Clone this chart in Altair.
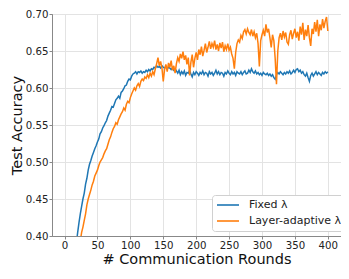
import altair as alt
import pandas as pd

fixed_x = list(range(12, 401, 2))
fixed_y = [
    0.33, 0.35, 0.37, 0.39, 0.405, 0.418, 0.43, 0.44, 0.45, 0.458,
    0.47, 0.478, 0.489, 0.497, 0.502, 0.508, 0.513, 0.518, 0.522, 0.527,
    0.531, 0.538, 0.541, 0.546, 0.549, 0.553, 0.556, 0.562, 0.566, 0.570,
    0.575, 0.574, 0.579, 0.584, 0.586, 0.589, 0.586, 0.594, 0.596, 0.599,
    0.603, 0.604, 0.609, 0.612, 0.611, 0.616, 0.619, 0.620, 0.622, 0.619,
    0.622, 0.621, 0.623, 0.620, 0.622, 0.621, 0.624, 0.622, 0.625, 0.623,
    0.626, 0.625, 0.628, 0.627, 0.630, 0.628, 0.629, 0.627, 0.630, 0.628,
    0.627, 0.629, 0.626, 0.628, 0.627, 0.625, 0.627, 0.624, 0.626, 0.623,
    0.620, 0.624, 0.618, 0.622, 0.619, 0.623, 0.617, 0.621, 0.620, 0.624,
    0.619, 0.615, 0.621, 0.618, 0.622, 0.620, 0.617, 0.621, 0.619, 0.623,
    0.618, 0.621, 0.620, 0.616, 0.622, 0.619, 0.621, 0.617, 0.620, 0.624,
    0.619, 0.622, 0.618, 0.621, 0.620, 0.616, 0.621, 0.619, 0.623, 0.620,
    0.618, 0.622, 0.619, 0.621, 0.617, 0.622, 0.620, 0.619, 0.622, 0.618,
    0.621, 0.623, 0.619, 0.620, 0.624, 0.621, 0.626, 0.622, 0.620, 0.623,
    0.619, 0.621, 0.618, 0.620, 0.617, 0.621, 0.619, 0.618, 0.620, 0.617,
    0.619, 0.616, 0.618, 0.614, 0.612, 0.618, 0.621, 0.619, 0.622, 0.620,
    0.618, 0.621, 0.619, 0.622, 0.620, 0.623, 0.619, 0.621, 0.624, 0.621,
    0.625, 0.626, 0.622, 0.624, 0.620, 0.622, 0.618, 0.616, 0.620, 0.614,
    0.609, 0.617, 0.620, 0.616, 0.619, 0.622, 0.618, 0.621, 0.619, 0.617,
    0.621, 0.619, 0.622, 0.620, 0.622,
]

adaptive_x = list(range(14, 401, 2))
adaptive_y = [
    0.33, 0.35, 0.36, 0.37, 0.38, 0.393, 0.405, 0.412, 0.421, 0.430,
    0.442, 0.450, 0.456, 0.462, 0.469, 0.474, 0.481, 0.485, 0.489, 0.495,
    0.500, 0.503, 0.506, 0.511, 0.515, 0.518, 0.524, 0.530, 0.534, 0.540,
    0.545, 0.548, 0.553, 0.551, 0.557, 0.561, 0.565, 0.568, 0.573, 0.570,
    0.578, 0.582, 0.580, 0.587, 0.592, 0.596, 0.600, 0.597, 0.603, 0.606,
    0.602, 0.609, 0.612, 0.610, 0.615, 0.613, 0.618, 0.614, 0.620, 0.616,
    0.622, 0.618, 0.626, 0.633, 0.641, 0.630, 0.636, 0.627, 0.609, 0.625,
    0.632, 0.622, 0.634, 0.628, 0.637, 0.624, 0.630, 0.620, 0.633, 0.641,
    0.636, 0.646, 0.640, 0.649, 0.638, 0.644, 0.632, 0.641, 0.617, 0.635,
    0.645, 0.628, 0.640, 0.648, 0.638, 0.652, 0.645, 0.656, 0.643, 0.651,
    0.660, 0.648, 0.655, 0.663, 0.653, 0.660, 0.655, 0.664, 0.652, 0.659,
    0.650, 0.661, 0.654, 0.662, 0.649, 0.657, 0.652, 0.660, 0.651, 0.655,
    0.646, 0.640, 0.626, 0.648, 0.660, 0.665, 0.662, 0.671, 0.667, 0.676,
    0.679, 0.673, 0.680, 0.675, 0.672, 0.679, 0.670, 0.676, 0.668, 0.674,
    0.660, 0.629, 0.664, 0.672, 0.678, 0.670, 0.686, 0.675, 0.680, 0.668,
    0.655, 0.672, 0.664, 0.640, 0.605, 0.650, 0.668, 0.674, 0.665, 0.677,
    0.669, 0.675, 0.662, 0.659, 0.672, 0.678, 0.666, 0.674, 0.680, 0.668,
    0.676, 0.664, 0.683, 0.672, 0.688, 0.665, 0.679, 0.670, 0.685, 0.668,
    0.657, 0.680, 0.673, 0.689, 0.676, 0.692, 0.670, 0.686, 0.678, 0.693,
    0.681, 0.690, 0.696, 0.677,
]

series_names = ["Fixed λ", "Layer-adaptive λ"]
series_colors = ["#1f77b4", "#ff7f0e"]
x_ticks = [0, 50, 100, 150, 200, 250, 300, 350, 400]
y_ticks = [0.40, 0.45, 0.50, 0.55, 0.60, 0.65, 0.70]

df = pd.concat([
    pd.DataFrame({"round": fixed_x, "acc": fixed_y, "method": series_names[0], "order": 0}),
    pd.DataFrame({"round": adaptive_x, "acc": adaptive_y, "method": series_names[1], "order": 1}),
])

font = "DejaVu Sans"

chart = alt.Chart(df).mark_line(strokeWidth=1.5, clip=True).encode(
    x=alt.X("round:Q",
            scale=alt.Scale(domain=[-19, 420], nice=False, zero=False),
            axis=alt.Axis(values=x_ticks, title="# Communication Rounds", format="d")),
    y=alt.Y("acc:Q",
            scale=alt.Scale(domain=[0.40, 0.70], nice=False, zero=False),
            axis=alt.Axis(values=y_ticks, title="Test Accuracy", format=".2f")),
    color=alt.Color("method:N",
                    scale=alt.Scale(domain=series_names, range=series_colors),
                    legend=alt.Legend(title=None, orient="none", legendX=160, legendY=181,
                                      symbolType="stroke", symbolSize=484,
                                      symbolStrokeWidth=1.6, labelFontSize=11,
                                      labelFont=font, labelColor="#222",
                                      labelOffset=9, padding=4, rowPadding=4,
                                      clipHeight=12,
                                      fillColor="white", strokeColor="#d0d0d0",
                                      cornerRadius=3)),
    detail="order:O",
).properties(
    width=289, height=222,
    autosize=alt.AutoSizeParams(type="none"),
    padding={"left": 44, "top": 6, "right": 0, "bottom": 35},
).configure_view(
    stroke="#888888", strokeWidth=1,
).configure_axis(
    labelFont=font, titleFont=font, labelFontSize=10.2, titleFontSize=14.5,
    labelColor="#222", titleColor="#111", titleFontWeight="normal",
    gridColor="#e3e3e3", gridWidth=1, domainColor="#888888",
    tickColor="#888888", tickSize=3, labelPadding=1,
).configure_axisY(
    titlePadding=1,
).configure_axisX(
    titlePadding=2,
)

chart.save("out.html", embed_options={"renderer": "svg", "actions": False})
